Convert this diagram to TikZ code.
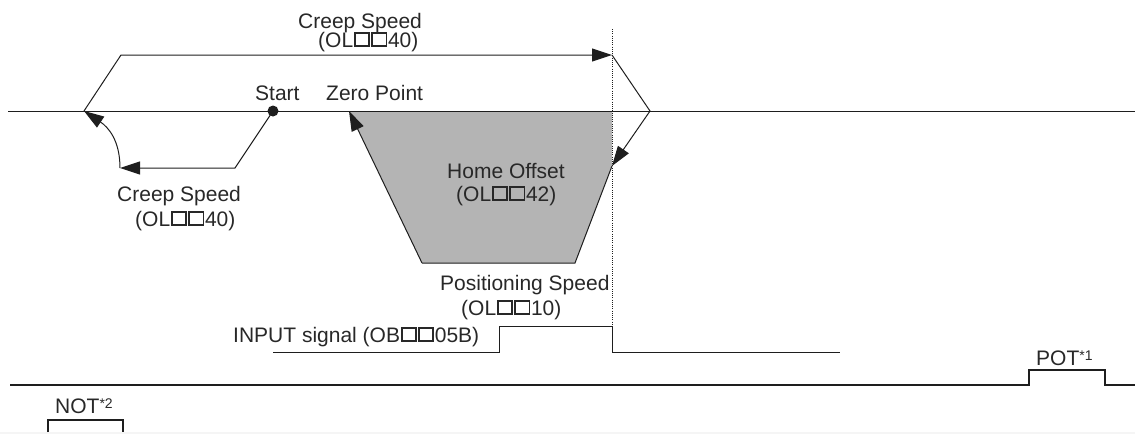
\documentclass[tikz,border=0pt]{standalone}
\usepackage{fontspec}
\setmainfont{Liberation Sans}
\usetikzlibrary{arrows.meta}
\definecolor{txt}{RGB}{40,40,40}
\definecolor{lin}{RGB}{30,30,30}
\definecolor{grayfill}{RGB}{180,180,180}
\newcommand\sqb{\kern0.8pt\raisebox{1.7pt}{\setlength{\fboxsep}{0pt}\setlength{\fboxrule}{1.7pt}\fbox{\rule{0pt}{11.6pt}\rule{12.4pt}{0pt}}}\kern0.8pt}
\newcommand\supmark[1]{{\fontsize{14}{14}\selectfont\raisebox{5pt}{#1}}}
\begin{document}
\begin{tikzpicture}[x=1pt,y=-1pt,
  ln/.style={draw=lin,line width=1pt},
  sig/.style={draw=lin,line width=1.4pt},
  tipa/.style={-{Triangle[length=20pt,width=13pt]}},
  lbl/.style={inner sep=0pt,anchor=base west,text=txt,font=\fontsize{21}{25}\selectfont},
  dotln/.style={draw=lin,line width=0.9pt,dash pattern=on 1pt off 1.2pt},
  dot/.style={circle,fill=lin,inner sep=0pt,minimum size=11pt}]
\useasboundingbox (0,0) rectangle (1135,434);
\fill[gray!8] (0,432) rectangle (1135,434);
% axis
\coordinate (axL) at (8,111);
\coordinate (axR) at (1135,111);
% trapezoid
\coordinate (t1) at (349,111);
\coordinate (t2) at (612,111);
\coordinate (t3) at (612,166);
\coordinate (t4) at (575,263);
\coordinate (t5) at (422,263);
\fill[grayfill] (t1) -- (t2) -- (t3) -- (t4) -- (t5) -- cycle;
\draw[ln] (axL) -- (axR);
\draw[ln] (t3) -- (t4) -- (t5);
\draw[ln,tipa] (t5) -- (t1);
% upper path
\coordinate (u0) at (84,111);
\coordinate (u1) at (121,55);
\coordinate (u2) at (612,55);
\coordinate (u3) at (650,111);
\draw[ln,tipa] (u0) -- (u1) -- (u2);
\draw[ln,tipa] (u2) -- (u3) -- (t3);
% start path
\node[dot] (start) at (273,111) {};
\coordinate (s1) at (235,168);
\coordinate (s2) at (120,168);
\draw[ln,tipa] (start.center) -- (s1) -- (s2);
\draw[ln,tipa] (s2) .. controls (120,140) and (108,127) .. (u0);
% dotted line
\coordinate (d0) at (612,29);
\coordinate (d1) at (612,326);
\draw[dotln] (d0) -- (d1);
% INPUT signal
\coordinate (i0) at (273,352);
\coordinate (i1) at (499,352);
\coordinate (i2) at (499,326);
\coordinate (i3) at (612,352);
\coordinate (i4) at (840,352);
\draw[ln] (i0) -- (i1) -- (i2) -- (d1) -- (i3) -- (i4);
% POT
\coordinate (p0) at (10,385);
\coordinate (p1) at (1029,385);
\coordinate (p2) at (1029,370);
\coordinate (p3) at (1105,370);
\coordinate (p4) at (1105,385);
\coordinate (p5) at (1135,385);
\draw[sig] (p0) -- (p1) -- (p2) -- (p3) -- (p4) -- (p5);
% NOT
\coordinate (n0) at (48,432);
\coordinate (n1) at (48,420);
\coordinate (n2) at (123,420);
\coordinate (n3) at (123,432);
\draw[sig] (n0) -- (n1) -- (n2) -- (n3);
% labels
\node[lbl] (cs1) at (298,28) {Creep Speed};
\node[lbl] (cs1p) at (318,47) {(OL\sqb\sqb40)};
\node[lbl] (st) at (255,100) {Start};
\node[lbl] (zp) at (326,100) {Zero Point};
\node[lbl] (cs2) at (117,201) {Creep Speed};
\node[lbl] (cs2p) at (135,226) {(OL\sqb\sqb40)};
\node[lbl] (ho) at (447,178) {Home Offset};
\node[lbl] (hop) at (456,201) {(OL\sqb\sqb42)};
\node[lbl] (ps) at (440,290) {Positioning Speed};
\node[lbl] (psp) at (461,315) {(OL\sqb\sqb10)};
\node[lbl] (in) at (233,342) {INPUT signal (OB\sqb\sqb05B)};
\node[lbl] (pot) at (1036,365) {POT\supmark{*1}};
\node[lbl] (not) at (55,413) {NOT\supmark{*2}};
\end{tikzpicture}
\end{document}
